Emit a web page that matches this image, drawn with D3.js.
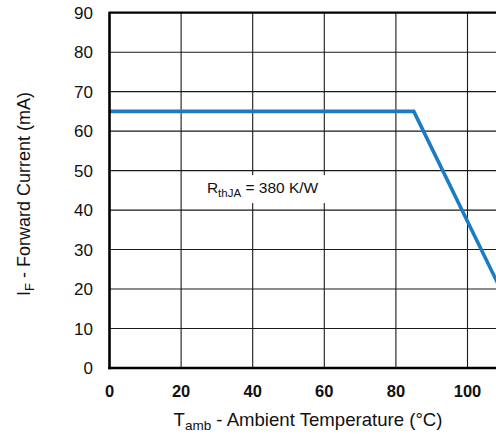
<!DOCTYPE html>
<html>
<head>
<meta charset="utf-8">
<script src="https://cdn.jsdelivr.net/npm/d3@7"></script>
<style>
  html, body { margin: 0; padding: 0; background: #fff; overflow: hidden; }
  svg { display: block; font-family: "Liberation Sans", Arial, sans-serif; }
</style>
</head>
<body>
<svg id="chart" width="496" height="434"></svg>
<script>
// Forward current derating curve vs ambient temperature
const tempPoints = [0, 85, 120];          // T_amb (°C)
const currentPoints = [65, 65, 0];        // I_F (mA)
const xTicks = [0, 20, 40, 60, 80, 100];
const yTicks = [0, 10, 20, 30, 40, 50, 60, 70, 80, 90];
const annotation = { base: "R", sub: "thJA", rest: " = 380 K/W", t: 27.2, i: 44.3 };

(function draw() {
  const svg = d3.select("#chart");
  const plotLeft = 109.5, plotTop = 12.7, plotBottom = 368;
  const pxPer10 = 35.8;
  const W = 496;
  const x = d3.scaleLinear().domain([0, 110]).range([plotLeft, plotLeft + 11 * pxPer10]);
  const y = d3.scaleLinear().domain([0, 90]).range([plotBottom, plotTop]);

  // clip region: plot area (continues past the window's right edge)
  svg.append("defs").append("clipPath").attr("id", "plot")
    .append("rect").attr("x", plotLeft).attr("y", plotTop)
    .attr("width", x(110) - plotLeft).attr("height", plotBottom - plotTop);

  // grid
  const grid = svg.append("g").attr("stroke", "#1a1a1a").attr("stroke-width", 1.1);
  grid.selectAll("line.h").data(yTicks.filter(d => d > 0 && d < 90)).join("line")
    .attr("class", "h")
    .attr("x1", plotLeft).attr("x2", W).attr("y1", d => y(d)).attr("y2", d => y(d));
  grid.selectAll("line.v").data(xTicks.filter(d => d > 0)).join("line")
    .attr("class", "v")
    .attr("x1", d => x(d)).attr("x2", d => x(d)).attr("y1", plotTop).attr("y2", plotBottom);

  // annotation with white backing
  const ann = svg.append("g");
  const at = ann.append("text").attr("x", x(annotation.t)).attr("y", y(annotation.i))
    .attr("font-size", 15.5).attr("fill", "#111");
  at.append("tspan").text(annotation.base);
  at.append("tspan").attr("font-size", 11.5).attr("dy", 4).text(annotation.sub);
  at.append("tspan").attr("dy", -4).text(annotation.rest);
  const bb = at.node().getBBox();
  ann.insert("rect", "text").attr("x", bb.x - 10).attr("y", bb.y - 4)
    .attr("width", bb.width + 20).attr("height", bb.height + 8).attr("fill", "#fff");

  // derating curve
  const pts = tempPoints.map((t, i) => [t, currentPoints[i]]);
  svg.append("path").datum(pts)
    .attr("clip-path", "url(#plot)")
    .attr("fill", "none").attr("stroke", "#1b7cc3").attr("stroke-width", 3.6)
    .attr("stroke-linejoin", "miter")
    .attr("d", d3.line().x(d => x(d[0])).y(d => y(d[1])));

  // frame: left, bottom, top
  const frame = svg.append("g").attr("stroke", "#000").attr("fill", "none");
  frame.append("line").attr("x1", plotLeft).attr("x2", W).attr("y1", plotTop).attr("y2", plotTop).attr("stroke-width", 2.2);
  frame.append("line").attr("x1", plotLeft).attr("x2", plotLeft).attr("y1", plotTop - 1).attr("y2", plotBottom + 1.3).attr("stroke-width", 2.6);
  frame.append("line").attr("x1", plotLeft - 1.3).attr("x2", W).attr("y1", plotBottom).attr("y2", plotBottom).attr("stroke-width", 2.6);

  // y axis labels
  svg.append("g").selectAll("text").data(yTicks).join("text")
    .attr("x", 93).attr("y", d => y(d)).attr("dy", "0.36em")
    .attr("text-anchor", "end").attr("font-size", 17).attr("fill", "#111")
    .text(d => d);

  // x axis labels
  svg.append("g").selectAll("text").data(xTicks).join("text")
    .attr("x", d => x(d)).attr("y", 396.5)
    .attr("text-anchor", "middle").attr("font-size", 16.5).attr("font-weight", "bold").attr("fill", "#111")
    .text(d => d);

  // axis titles
  const xt = svg.append("text").attr("x", 308).attr("y", 426)
    .attr("text-anchor", "middle").attr("font-size", 18.6).attr("fill", "#111");
  xt.append("tspan").text("T");
  xt.append("tspan").attr("font-size", 13.5).attr("dy", 4).text("amb");
  xt.append("tspan").attr("dy", -4).text(" - Ambient Temperature (°C)");

  const yt = svg.append("text")
    .attr("transform", `translate(30,194) rotate(-90)`)
    .attr("text-anchor", "middle").attr("font-size", 18).attr("fill", "#111");
  yt.append("tspan").text("I");
  yt.append("tspan").attr("font-size", 13).attr("dy", 4).text("F");
  yt.append("tspan").attr("dy", -4).text(" - Forward Current (mA)");
})();
</script>
</body>
</html>
